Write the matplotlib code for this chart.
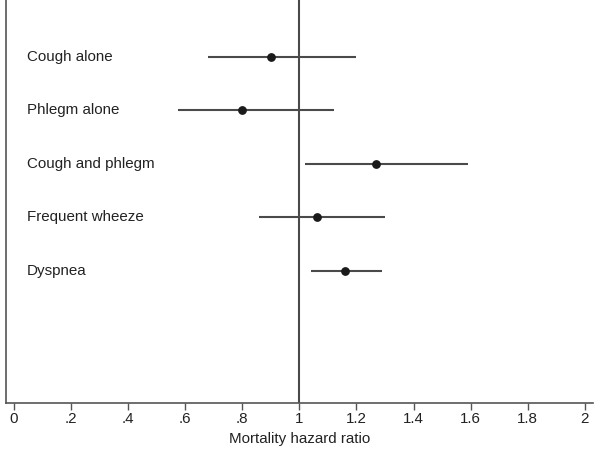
import matplotlib
matplotlib.use("Agg")
import matplotlib.pyplot as plt

plt.rcParams['font.family'] = ['Liberation Sans', 'DejaVu Sans']

# hazard ratios with 95% CI
labels = ['Cough alone', 'Phlegm alone', 'Cough and phlegm', 'Frequent wheeze', 'Dyspnea']
hr = [0.90, 0.80, 1.27, 1.06, 1.16]
lo = [0.68, 0.575, 1.02, 0.86, 1.04]
hi = [1.20, 1.12, 1.59, 1.30, 1.29]

xticks = [0, 0.2, 0.4, 0.6, 0.8, 1, 1.2, 1.4, 1.6, 1.8, 2]
xticklabels = ['0', '.2', '.4', '.6', '.8', '1', '1.2', '1.4', '1.6', '1.8', '2']

fig = plt.figure(figsize=(6, 4.51), dpi=100)
ax = fig.add_axes([0.01, 0.1064, 0.978, 0.8936])

ypos = list(range(1, len(labels) + 1))
line_col = '#4a4a4a'

for y, l, h in zip(ypos, lo, hi):
    ax.plot([l, h], [y, y], color=line_col, lw=1.5, solid_capstyle='butt', zorder=2)
ax.scatter(hr, ypos, s=28, color='#1a1a1a', zorder=3)

for y, lab in zip(ypos, labels):
    ax.text(0.045, y, lab, ha='left', va='center', fontsize=10.9, color='#222222')

ax.axvline(1, color=line_col, lw=1.5, zorder=1)

ax.set_xlim(-0.028, 2.028)
ax.set_ylim(7.47, -0.065)
ax.set_yticks([])
ax.set_xticks(xticks)
ax.set_xticklabels(xticklabels, fontsize=10.9, color='#222222')
ax.tick_params(axis='x', length=5, width=1, color='#555555', pad=1.5)
ax.set_xlabel('Mortality hazard ratio', fontsize=10.9, color='#222222', labelpad=4)

for s in ['top', 'right']:
    ax.spines[s].set_visible(False)
for s in ['left', 'bottom']:
    ax.spines[s].set_color('#555555')
    ax.spines[s].set_linewidth(1.2)

fig.savefig('out.png', dpi=100)
